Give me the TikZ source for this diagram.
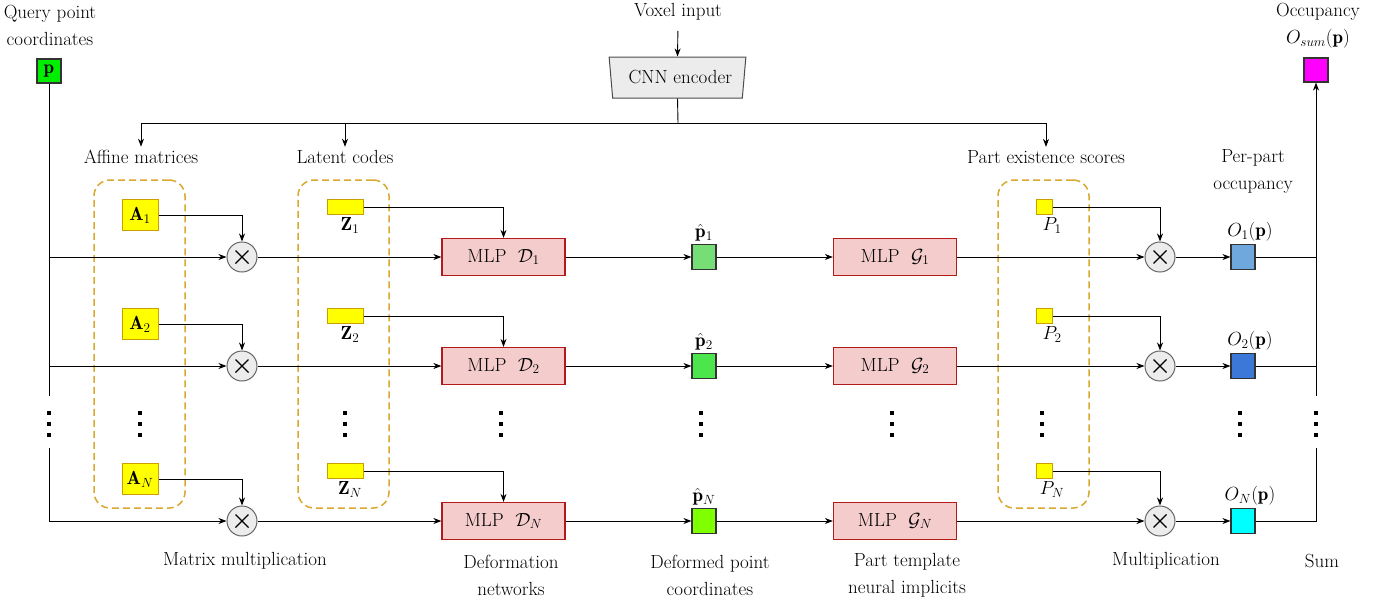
\RequirePackage{fix-cm}
\documentclass[tikz,border=0pt]{standalone}
\usepackage{fontspec}
\usepackage{amsmath}
\usetikzlibrary{arrows.meta,shapes.geometric}

\definecolor{pgreen}{HTML}{00EE00}
\definecolor{ph1}{HTML}{77DD77}
\definecolor{ph2}{HTML}{4CE64C}
\definecolor{phN}{HTML}{80FF00}
\definecolor{o1}{HTML}{6FA8DC}
\definecolor{o2}{HTML}{3C78D8}
\definecolor{oN}{HTML}{00FFFF}
\definecolor{osum}{HTML}{FF00FF}
\definecolor{ylw}{HTML}{FFFF00}
\definecolor{ylwedge}{HTML}{C9A000}
\definecolor{grp}{HTML}{D9A830}
\definecolor{mlpfill}{HTML}{F4CCCC}
\definecolor{mlpedge}{HTML}{B31B1B}
\definecolor{opfill}{HTML}{ECECEC}
\definecolor{opedge}{HTML}{666666}

\begin{document}
\begin{tikzpicture}[x=1pt,y=-1pt,
  every node/.style={font=\fontsize{19}{22}\selectfont},
  wire/.style={draw=black,line width=0.9pt},
  arr/.style={wire,-{Stealth[length=8pt,width=6pt,inset=2.5pt]}},
  sq/.style={rectangle,draw=black!80,line width=1.1pt,inner sep=0pt,
             minimum width=24pt,minimum height=25pt},
  ybox/.style={rectangle,fill=ylw,draw=ylwedge,line width=1pt,inner sep=0pt},
  mlp/.style={rectangle,fill=mlpfill,draw=mlpedge,line width=1.2pt,
              minimum width=123pt,minimum height=37pt,inner sep=0pt},
  mult/.style={circle,fill=opfill,draw=opedge,line width=1pt,
               minimum size=30pt,inner sep=0pt,
               path picture={
                 \draw[line width=1.3pt,black]
                   ([shift={(-6.5pt,-6.5pt)}]path picture bounding box.center) --
                   ([shift={(6.5pt,6.5pt)}]path picture bounding box.center)
                   ([shift={(-6.5pt,6.5pt)}]path picture bounding box.center) --
                   ([shift={(6.5pt,-6.5pt)}]path picture bounding box.center);}},
  grpbox/.style={rectangle,draw=grp,line width=1.5pt,dash pattern=on 7pt off 4pt,
                 rounded corners=16pt,minimum width=91pt,minimum height=328pt},
  cnn/.style={trapezium,trapezium angle=77.6,shape border rotate=180,
              trapezium stretches=true,minimum width=137pt,minimum height=41pt,
              inner sep=0pt,fill=opfill,draw=black!70,line width=1pt},
  two/.style={align=center,font=\fontsize{19}{27}\selectfont},
  vd/.pic={\foreach \d in {-11,0,11} \fill (-1.7,\d-1.7) rectangle (1.7,\d+1.7);}
]
\useasboundingbox (0,0) rectangle (1390,603);

% inputs and encoder
\node[two] (qlbl) at (50,25) {Query point\\coordinates};
\node[sq,fill=pgreen,minimum height=24pt] (p) at (49,71) {$\mathbf{p}$};
\node (vox) at (678,12) {Voxel input};
\node[cnn] (enc) at (677.5,77.5) {\ CNN encoder};
\node[two] (occlbl) at (1318,26) {Occupancy\\$O_{sum}(\mathbf{p})$};
\node[sq,fill=osum,minimum height=24pt] (osum) at (1316,70) {};

% group headers
\node (lblA) at (141,157) {Affine matrices};
\node (lblZ) at (345,157) {Latent codes};
\node (lblP) at (1046,157) {Part existence scores};
\node[two] (lblO) at (1253,171) {Per-part\\occupancy};

\coordinate (bus) at (678,123);
\draw[arr,shorten <=7pt] (vox.south) -- (enc.north);
\draw[wire] (enc.south) -- (bus);
\draw[arr] (bus) -| (lblA.north);
\draw[arr] (bus) -| (lblZ.north);
\draw[arr] (bus) -| (lblP.north);

% dashed groups
\node[grpbox] (gA) at (139.5,344) {};
\node[grpbox] (gZ) at (343.5,344) {};
\node[grpbox] (gP) at (1043.5,344) {};

% rows
\foreach \r/\y/\pc/\oc in {1/257/ph1/o1, 2/366/ph2/o2, N/521/phN/oN}{
  \node[ybox,minimum width=36pt,minimum height=31pt] (A\r) at (140,\y-42) {$\mathbf{A}_{\r}$};
  \node[ybox,minimum width=36pt,minimum height=15pt,
        label={[xshift=5pt,label distance=-1pt]below:$\mathbf{Z}_{\r}$}] (Z\r) at (345,\y-50) {};
  \node[mult] (m\r) at (242,\y) {};
  \node[mlp] (D\r) at (503.5,\y) {MLP \ $\mathcal{D}_{\r}$};
  \node[sq,fill=\pc,label={[label distance=-1pt]above:$\hat{\mathbf{p}}_{\r}$}] (ph\r) at (704,\y) {};
  \node[mlp] (G\r) at (895,\y) {MLP \ $\mathcal{G}_{\r}$};
  \node[ybox,minimum width=16pt,minimum height=15pt,
        label={[xshift=8pt,label distance=-1pt]below:$P_{\r}$}] (P\r) at (1044,\y-50) {};
  \node[mult] (n\r) at (1160,\y) {};
  \node[sq,fill=\oc,label={[xshift=7pt,label distance=-1pt]above:$O_{\r}(\mathbf{p})$}] (O\r) at (1243,\y) {};

  \draw[arr] (A\r.east) -| (m\r.north);
  \draw[arr] (Z\r.east) -| (D\r.north);
  \draw[arr] (m\r.east) -- (D\r.west);
  \draw[arr] (D\r.east) -- (ph\r.west);
  \draw[arr] (ph\r.east) -- (G\r.west);
  \draw[arr] (G\r.east) -- (n\r.west);
  \draw[arr] (P\r.east) -| (n\r.north);
  \draw[arr] (n\r.east) -- (O\r.west);
}

% query point distribution on the left
\coordinate (lTop) at (49,396);
\coordinate (lBot) at (49,448);
\draw[wire] (p.south) -- (lTop);
\draw[arr] (p |- m1) -- (m1.west);
\draw[arr] (p |- m2) -- (m2.west);
\draw[arr] (lBot) |- (mN.west);

% summation on the right
\coordinate (rTop) at (1316,396);
\coordinate (rBot) at (1316,448);
\draw[arr] (rTop) -- (osum.south);
\draw[wire] (O1.east) -- (O1 -| rTop);
\draw[wire] (O2.east) -- (O2 -| rTop);
\draw[wire] (ON.east) -| (rBot);

% ellipsis between row 2 and row N
\foreach \x in {49,140,345,501,701,892,1042,1240,1316}
  \pic at (\x,424) {vd};

% captions
\node (c1) at (245,561) {Matrix multiplication};
\node[two] (c2) at (511,575) {Deformation\\networks};
\node[two] (c3) at (710,575) {Deformed point\\coordinates};
\node[two] (c4) at (907,575) {Part template\\neural implicits};
\node (c5) at (1166,561) {Multiplication};
\node (c6) at (1322,561) {Sum};
\end{tikzpicture}
\end{document}
